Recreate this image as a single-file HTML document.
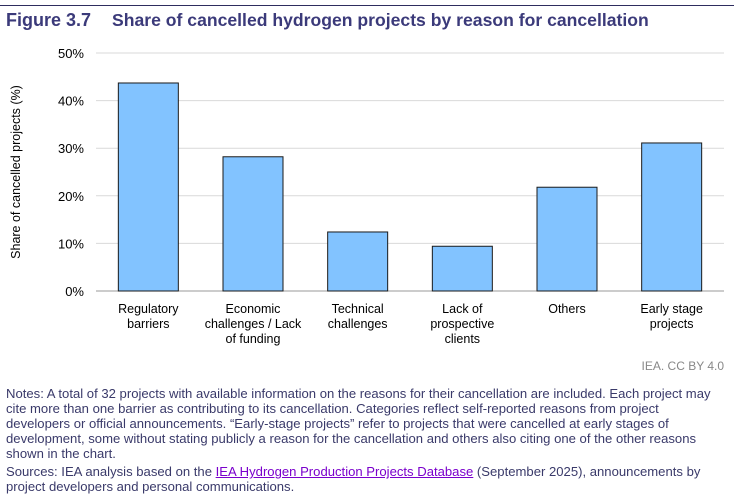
<!DOCTYPE html>
<html><head><meta charset="utf-8"><style>
body{margin:0;width:734px;height:500px;background:#fff;font-family:"Liberation Sans",sans-serif;position:relative;overflow:hidden}
.t{position:absolute;white-space:nowrap}
.notes{position:absolute;left:6px;top:386px;width:730px;font-size:13.1px;line-height:15px;color:#3a3a6a;white-space:nowrap}
.notes a{color:#7a00cc;text-decoration:underline}
</style></head><body>
<div style="position:absolute;left:0;top:5px;width:734px;height:1px;background:#2e2d5e"></div>
<div class="t" style="left:6px;top:10px;font-size:18px;font-weight:bold;color:#3b3a7a">Figure 3.7</div>
<div class="t" style="left:112px;top:10px;font-size:17.6px;font-weight:bold;color:#3b3a7a">Share of cancelled hydrogen projects by reason for cancellation</div>
<svg id="chart" width="734" height="370" style="position:absolute;left:0;top:0;font-family:'Liberation Sans',sans-serif"></svg>
<div class="t" style="right:10px;top:359px;font-size:12px;color:#888">IEA. CC BY 4.0</div>
<div class="notes">Notes: A total of 32 projects with available information on the reasons for their cancellation are included. Each project may<br>cite more than one barrier as contributing to its cancellation. Categories reflect self-reported reasons from project<br>developers or official announcements. “Early-stage projects” refer to projects that were cancelled at early stages of<br>development, some without stating publicly a reason for the cancellation and others also citing one of the other reasons<br>shown in the chart.<div style="margin-top:3px">Sources: IEA analysis based on the <a>IEA Hydrogen Production Projects Database</a> (September 2025), announcements by<br>project developers and personal communications.</div></div>
<script>
const categories=[["Regulatory","barriers"],["Economic","challenges / Lack","of funding"],["Technical","challenges"],["Lack of","prospective","clients"],["Others"],["Early stage","projects"]];
const values=[43.7,28.2,12.4,9.4,21.8,31.1];
const ticks=[0,10,20,30,40,50];
const NS="http://www.w3.org/2000/svg";
const svg=document.getElementById('chart');
const x0=96,x1=724,y0=291,y1=53,max=50;
const y=v=>y0-(v/max)*(y0-y1);
const bw=(x1-x0)/categories.length;
function mk(tag,attrs,txt){const e=document.createElementNS(NS,tag);for(const k in attrs)e.setAttribute(k,attrs[k]);if(txt!=null)e.textContent=txt;svg.appendChild(e);return e;}
ticks.forEach(t=>{
 const l=mk('line',{x1:x0,x2:x1,y1:y(t),y2:y(t),stroke:t===0?'#999':'#d9d9d9','stroke-width':1});
 
 
 const tx=mk('text',{x:84,y:y(t)+5,'text-anchor':'end','font-size':13,fill:'#000'},t+'%');
 
 
});
values.forEach((v,i)=>{
 const cx=x0+bw*(i+0.5);
 const r=mk('rect',{x:cx-30,y:y(v),width:60,height:y(0)-y(v),fill:'#82c3ff',stroke:'#1a1a1a','stroke-width':1});
 
 
 categories[i].forEach((ln,j)=>{
  const t=mk('text',{x:cx,y:313+j*15,'text-anchor':'middle','font-size':12.5,fill:'#000'},ln);
  
  
 });
});
const yt=mk('text',{x:0,y:0,transform:'translate(20,172) rotate(-90)','text-anchor':'middle','font-size':12.5,fill:'#000'},'Share of cancelled projects (%)');


</script>
</body></html>
